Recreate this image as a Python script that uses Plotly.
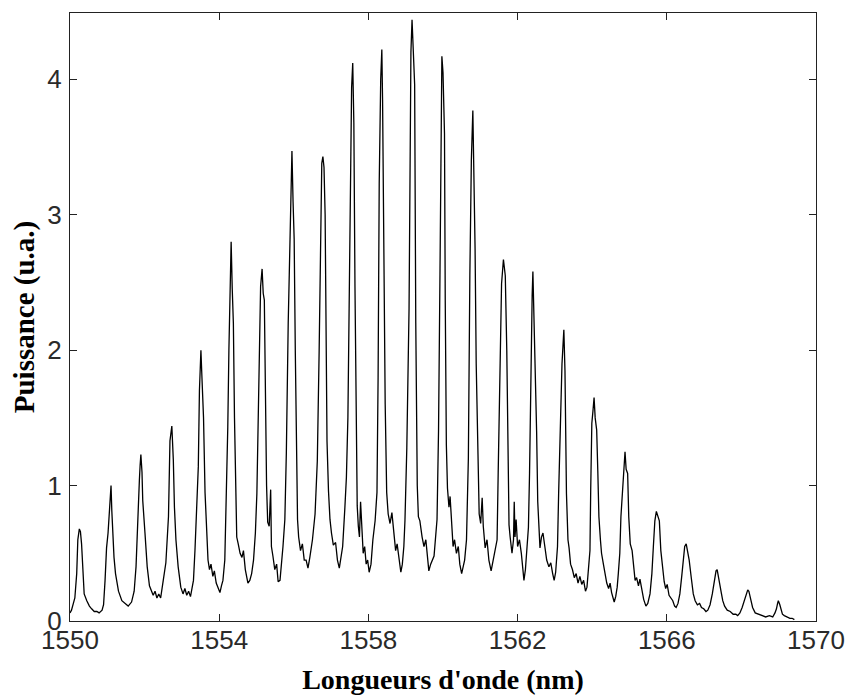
import plotly.graph_objects as go

# Spectrum trace (wavelength in nm, power in a.u.), one line per comb line
wavelength_nm = [
    1550.00, 1550.04, 1550.09, 1550.13, 1550.18, 1550.21, 1550.25, 1550.28, 1550.31, 1550.34, 1550.38, 1550.45, 1550.52, 1550.58, 1550.65, 1550.72, 1550.78, 1550.86,
    1550.90, 1550.94, 1550.98, 1551.02, 1551.05, 1551.08, 1551.10, 1551.12, 1551.14, 1551.18, 1551.22, 1551.30, 1551.39, 1551.47, 1551.56, 1551.65, 1551.72,
    1551.77, 1551.80, 1551.86, 1551.88, 1551.90, 1551.93, 1551.95, 1552.01, 1552.07, 1552.13, 1552.18, 1552.23, 1552.28, 1552.33, 1552.38, 1552.43, 1552.50,
    1552.57, 1552.64, 1552.68, 1552.73, 1552.75, 1552.77, 1552.80, 1552.84, 1552.90, 1552.97, 1553.03, 1553.08, 1553.13, 1553.18, 1553.23, 1553.31,
    1553.35, 1553.40, 1553.44, 1553.47, 1553.51, 1553.53, 1553.55, 1553.58, 1553.62, 1553.66, 1553.70, 1553.74, 1553.78, 1553.83, 1553.87, 1553.92, 1553.97, 1554.02, 1554.06,
    1554.10, 1554.15, 1554.20, 1554.23, 1554.26, 1554.29, 1554.32, 1554.35, 1554.38, 1554.41, 1554.44, 1554.47, 1554.51, 1554.56, 1554.61, 1554.65, 1554.70, 1554.74, 1554.77, 1554.82, 1554.87,
    1554.92, 1554.97, 1555.01, 1555.04, 1555.07, 1555.11, 1555.15, 1555.18, 1555.21, 1555.24, 1555.27, 1555.30, 1555.34, 1555.38, 1555.40, 1555.44, 1555.49, 1555.54, 1555.58, 1555.63, 1555.67,
    1555.71, 1555.76, 1555.80, 1555.85, 1555.89, 1555.92, 1555.95, 1555.98, 1556.01, 1556.04, 1556.07, 1556.10, 1556.13, 1556.18, 1556.23, 1556.28, 1556.33, 1556.38, 1556.43,
    1556.50, 1556.57, 1556.63, 1556.68, 1556.72, 1556.75, 1556.78, 1556.81, 1556.84, 1556.86, 1556.89, 1556.93, 1556.97, 1557.01, 1557.06, 1557.12, 1557.17, 1557.22, 1557.26, 1557.31,
    1557.37, 1557.41, 1557.45, 1557.49, 1557.52, 1557.55, 1557.58, 1557.61, 1557.64, 1557.68, 1557.70, 1557.73, 1557.76, 1557.79, 1557.82, 1557.86, 1557.90, 1557.94, 1557.98, 1558.02, 1558.07,
    1558.12, 1558.18, 1558.23, 1558.26, 1558.29, 1558.33, 1558.36, 1558.38, 1558.41, 1558.45, 1558.49, 1558.53, 1558.58, 1558.63, 1558.68, 1558.73, 1558.77, 1558.82, 1558.87, 1558.91,
    1558.95, 1558.98, 1559.03, 1559.09, 1559.12, 1559.14, 1559.17, 1559.20, 1559.24, 1559.27, 1559.31, 1559.34, 1559.38, 1559.44, 1559.49, 1559.54, 1559.59, 1559.62, 1559.67, 1559.72,
    1559.76, 1559.84, 1559.88, 1559.92, 1559.95, 1559.97, 1560.00, 1560.04, 1560.06, 1560.09, 1560.12, 1560.16, 1560.19, 1560.23, 1560.27, 1560.31, 1560.36, 1560.41, 1560.45, 1560.50, 1560.54,
    1560.58, 1560.63, 1560.68, 1560.72, 1560.76, 1560.80, 1560.83, 1560.86, 1560.89, 1560.94, 1560.97, 1561.01, 1561.05, 1561.08, 1561.13, 1561.18, 1561.23, 1561.29, 1561.34, 1561.40,
    1561.45, 1561.48, 1561.52, 1561.57, 1561.62, 1561.67, 1561.71, 1561.75, 1561.77, 1561.80, 1561.85, 1561.89, 1561.91, 1561.93, 1561.96, 1562.00, 1562.05, 1562.10, 1562.14, 1562.17, 1562.21,
    1562.25, 1562.29, 1562.32, 1562.36, 1562.39, 1562.41, 1562.44, 1562.47, 1562.51, 1562.54, 1562.58, 1562.60, 1562.64, 1562.68, 1562.73, 1562.78, 1562.84, 1562.89, 1562.94, 1562.98, 1563.02,
    1563.07, 1563.10, 1563.14, 1563.19, 1563.24, 1563.27, 1563.31, 1563.35, 1563.38, 1563.42, 1563.47, 1563.52, 1563.57, 1563.62, 1563.67, 1563.72, 1563.77, 1563.82, 1563.86,
    1563.90, 1563.94, 1563.96, 1563.99, 1564.02, 1564.05, 1564.08, 1564.12, 1564.15, 1564.18, 1564.22, 1564.25, 1564.30, 1564.34, 1564.39, 1564.44, 1564.48, 1564.52, 1564.56, 1564.59, 1564.63, 1564.67,
    1564.70, 1564.74, 1564.77, 1564.83, 1564.88, 1564.91, 1564.95, 1564.98, 1565.02, 1565.07, 1565.11, 1565.15, 1565.19, 1565.24, 1565.28, 1565.33, 1565.38, 1565.44, 1565.49, 1565.55,
    1565.60, 1565.64, 1565.68, 1565.72, 1565.76, 1565.80, 1565.84, 1565.89, 1565.93, 1565.97, 1566.01, 1566.06, 1566.11, 1566.16, 1566.21, 1566.25, 1566.30,
    1566.35, 1566.40, 1566.44, 1566.48, 1566.52, 1566.56, 1566.60, 1566.66, 1566.71, 1566.76, 1566.82, 1566.88, 1566.93, 1566.99, 1567.05, 1567.10,
    1567.16, 1567.22, 1567.27, 1567.32, 1567.35, 1567.38, 1567.41, 1567.46, 1567.50, 1567.55, 1567.62, 1567.70, 1567.78, 1567.85, 1567.90, 1567.96,
    1568.02, 1568.08, 1568.13, 1568.17, 1568.20, 1568.23, 1568.30, 1568.37, 1568.45, 1568.55, 1568.65, 1568.75, 1568.84, 1568.90,
    1568.94, 1568.97, 1568.99, 1569.03, 1569.06, 1569.10, 1569.15, 1569.22, 1569.30, 1569.36, 1569.42,
]

power_au = [
    0.06, 0.08, 0.13, 0.17, 0.35, 0.60, 0.68, 0.66, 0.57, 0.43, 0.20, 0.15, 0.11, 0.09, 0.07, 0.07, 0.06, 0.08,
    0.12, 0.30, 0.54, 0.65, 0.82, 0.90, 1.00, 0.82, 0.65, 0.47, 0.35, 0.22, 0.15, 0.13, 0.11, 0.14, 0.22,
    0.40, 0.67, 1.04, 1.15, 1.23, 1.10, 0.89, 0.65, 0.40, 0.26, 0.22, 0.19, 0.22, 0.17, 0.20, 0.17, 0.30,
    0.43, 0.77, 1.33, 1.44, 1.30, 1.19, 0.84, 0.60, 0.40, 0.25, 0.20, 0.24, 0.19, 0.22, 0.18, 0.30,
    0.52, 0.82, 1.14, 1.70, 2.00, 1.85, 1.70, 1.50, 0.95, 0.65, 0.45, 0.38, 0.42, 0.33, 0.37, 0.28, 0.25, 0.21, 0.26,
    0.30, 0.45, 1.00, 1.43, 2.00, 2.44, 2.80, 2.45, 2.20, 1.50, 0.90, 0.62, 0.57, 0.50, 0.47, 0.52, 0.38, 0.31, 0.28, 0.30, 0.35,
    0.45, 0.65, 0.94, 1.50, 2.10, 2.47, 2.60, 2.42, 2.37, 1.60, 1.00, 0.73, 0.70, 0.97, 0.55, 0.48, 0.38, 0.42, 0.29, 0.30, 0.40,
    0.55, 0.75, 1.24, 2.20, 2.82, 3.29, 3.47, 3.10, 2.82, 2.00, 1.19, 0.75, 0.62, 0.52, 0.57, 0.45, 0.45, 0.39, 0.47,
    0.60, 0.79, 1.18, 2.00, 2.80, 3.38, 3.43, 3.35, 3.00, 2.22, 1.33, 0.96, 0.75, 0.65, 0.56, 0.58, 0.45, 0.39, 0.47, 0.55,
    0.84, 1.06, 1.50, 2.49, 3.24, 3.94, 4.12, 3.68, 2.47, 1.40, 0.85, 0.70, 0.62, 0.88, 0.66, 0.50, 0.55, 0.42, 0.45, 0.36, 0.42,
    0.60, 0.74, 0.95, 1.80, 3.23, 4.00, 4.22, 3.85, 2.86, 1.60, 0.95, 0.79, 0.72, 0.80, 0.66, 0.52, 0.57, 0.45, 0.36, 0.42,
    0.55, 0.74, 1.28, 2.31, 3.69, 4.20, 4.44, 4.20, 3.96, 2.20, 1.00, 0.77, 0.74, 0.62, 0.55, 0.60, 0.45, 0.37, 0.42, 0.45,
    0.48, 0.75, 1.40, 2.60, 3.60, 4.17, 4.05, 3.60, 2.37, 1.30, 0.98, 0.84, 0.92, 0.70, 0.55, 0.60, 0.50, 0.55, 0.42, 0.35, 0.40,
    0.45, 0.60, 1.20, 2.56, 3.40, 3.77, 3.30, 2.75, 1.90, 1.16, 0.79, 0.72, 0.91, 0.70, 0.54, 0.60, 0.45, 0.37, 0.45, 0.52,
    0.60, 1.10, 1.80, 2.49, 2.67, 2.55, 2.00, 1.10, 0.71, 0.62, 0.50, 0.60, 0.88, 0.62, 0.75, 0.55, 0.60, 0.50, 0.40, 0.30, 0.38,
    0.55, 0.69, 1.09, 2.00, 2.40, 2.58, 2.25, 2.05, 1.40, 0.88, 0.70, 0.54, 0.62, 0.65, 0.55, 0.45, 0.40, 0.43, 0.35, 0.30, 0.36,
    0.55, 0.94, 1.43, 1.90, 2.15, 1.85, 0.94, 0.60, 0.54, 0.42, 0.38, 0.32, 0.35, 0.28, 0.33, 0.27, 0.30, 0.22, 0.25,
    0.40, 0.52, 0.97, 1.46, 1.55, 1.65, 1.50, 1.41, 1.11, 0.77, 0.60, 0.50, 0.42, 0.35, 0.28, 0.24, 0.28, 0.21, 0.17, 0.14, 0.18, 0.25,
    0.35, 0.50, 0.77, 1.04, 1.25, 1.12, 1.09, 0.77, 0.57, 0.52, 0.40, 0.30, 0.32, 0.26, 0.31, 0.23, 0.16, 0.11, 0.13, 0.20,
    0.35, 0.55, 0.74, 0.81, 0.78, 0.74, 0.52, 0.38, 0.29, 0.24, 0.27, 0.19, 0.17, 0.15, 0.11, 0.10, 0.13,
    0.20, 0.33, 0.45, 0.55, 0.57, 0.52, 0.45, 0.31, 0.20, 0.15, 0.12, 0.13, 0.10, 0.09, 0.07, 0.08,
    0.12, 0.20, 0.30, 0.37, 0.38, 0.34, 0.30, 0.21, 0.15, 0.11, 0.08, 0.07, 0.05, 0.05, 0.04, 0.06,
    0.10, 0.16, 0.21, 0.23, 0.22, 0.19, 0.10, 0.06, 0.05, 0.04, 0.03, 0.04, 0.03, 0.06,
    0.09, 0.13, 0.15, 0.12, 0.08, 0.05, 0.04, 0.03, 0.02, 0.02, 0.01,
]

x_ticks = [1550, 1554, 1558, 1562, 1566, 1570]
y_ticks = [0, 1, 2, 3, 4]
x_title = "Longueurs d'onde (nm)"
y_title = "Puissance (u.a.)"

fig = go.Figure()
fig.add_trace(go.Scatter(
    x=wavelength_nm, y=power_au, mode="lines",
    line=dict(color="black", width=1.3),
    showlegend=False, hoverinfo="x+y",
))

tick_font = dict(family="Liberation Sans, Arial, sans-serif", size=26, color="#2a2a2a")

fig.update_layout(
    width=846, height=695,
    margin=dict(l=70, r=30, t=13, b=74),
    paper_bgcolor="white", plot_bgcolor="white",
    xaxis=dict(
        range=[1550, 1570], tickvals=x_ticks, ticktext=[str(v) for v in x_ticks],
        ticks="inside", ticklen=7, tickwidth=1, tickcolor="#222222",
        showline=True, linecolor="#222222", linewidth=1.2, mirror="ticks",
        showgrid=False, zeroline=False, tickfont=tick_font,
        ticklabelstandoff=-4, automargin=False,
        title=dict(text="<b>" + x_title + "</b>",
                   font=dict(family="Liberation Serif, Times New Roman, serif", size=28, color="black"),
                   standoff=15),
    ),
    yaxis=dict(
        range=[0, 4.49], tickvals=y_ticks, ticktext=[str(v) for v in y_ticks],
        ticks="inside", ticklen=7, tickwidth=1, tickcolor="#222222",
        showline=True, linecolor="#222222", linewidth=1.2, mirror="ticks",
        showgrid=False, zeroline=False, tickfont=tick_font,
        ticklabelstandoff=2, automargin=False,
        title=dict(text="<b>" + y_title + "</b>",
                   font=dict(family="Liberation Serif, Times New Roman, serif", size=29, color="black"),
                   standoff=4),
    ),
)

fig.write_html(
    "out.html",
    config={"displayModeBar": False},
    post_script=(
        "document.documentElement.style.margin='0';"
        "document.body.style.margin='0';"
        "document.body.style.overflow='hidden';"
    ),
)
